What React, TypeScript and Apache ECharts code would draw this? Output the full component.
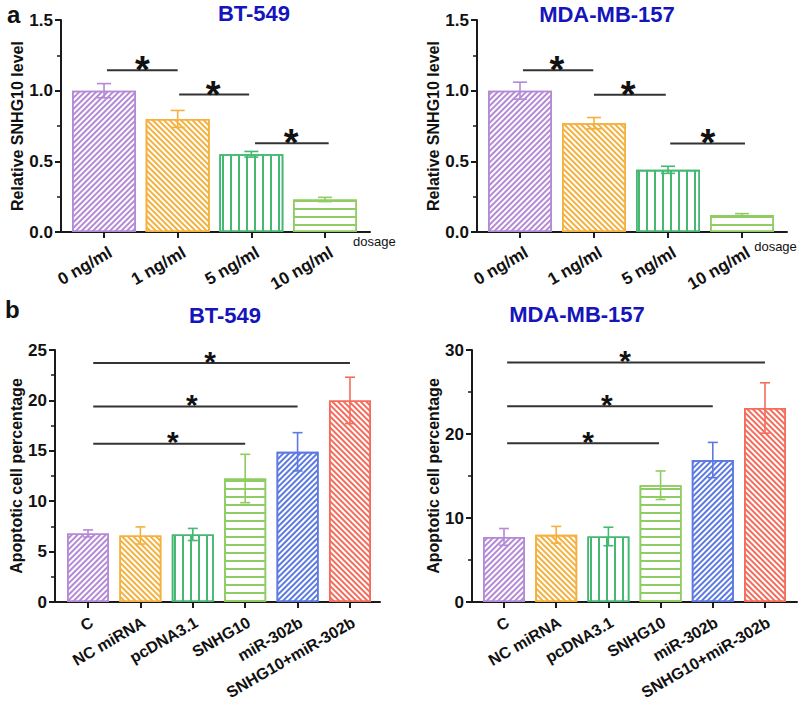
import React, { useEffect, useRef } from 'react';
import * as echarts from 'echarts';

// ---------- data ----------
const dosageCats = ['0 ng/ml', '1 ng/ml', '5 ng/ml', '10 ng/ml'];
const groupCats = ['C', 'NC miRNA', 'pcDNA3.1', 'SNHG10', 'miR-302b', 'SNHG10+miR-302b'];

const aBT549Mean = [1.0, 0.8, 0.55, 0.23];
const aBT549Err = [0.05, 0.06, 0.02, 0.015];
const aMDAMean = [1.0, 0.77, 0.44, 0.12];
const aMDAErr = [0.06, 0.04, 0.025, 0.01];

const bBT549Mean = [6.8, 6.6, 6.7, 12.25, 14.9, 20.0];
const bBT549Err = [0.35, 0.85, 0.6, 2.4, 1.9, 2.3];
const bMDAMean = [7.75, 8.0, 7.8, 13.9, 16.9, 23.1];
const bMDAErr = [1.0, 1.0, 1.1, 1.7, 2.1, 3.0];

// significance brackets: [from, to, y, star position]
const aBT549Sig = [[0.04, 1.0, 1.144, 0.52], [1.02, 1.97, 0.972, 1.48], [2.05, 3.05, 0.628, 2.54]];
const aMDASig = [[0.04, 0.99, 1.144, 0.5], [1.0, 1.97, 0.971, 1.46], [2.03, 3.04, 0.627, 2.54]];
const bBT549Sig = [[0.1, 5.0, 23.7, 2.33], [0.1, 4.0, 19.4, 1.98], [0.1, 3.0, 15.7, 1.62]];
const bMDASig = [[0.06, 5.0, 28.5, 2.32], [0.06, 4.0, 23.3, 1.97], [0.06, 2.97, 18.9, 1.61]];

const aTicks = ['0.0', '0.5', '1.0', '1.5'];

// ---------- styles ----------
const FONT = '"Liberation Sans", Arial, sans-serif';
const PURPLE = '#b48ad6';
const ORANGE = '#f4b13f';
const GREEN = '#45b872';
const LGREEN = '#8fcc63';
const BLUE = '#5c7ae0';
const RED = '#f36c5c';
const TITLE = '#1515bb';

const diagUp = (c: string) => ({ symbol: 'rect', symbolSize: 1, color: c, dashArrayX: [1, 0], dashArrayY: [1.2, 2.0], rotation: -Math.PI / 4 });
const diagDown = (c: string) => ({ symbol: 'rect', symbolSize: 1, color: c, dashArrayX: [1, 0], dashArrayY: [1.2, 1.9], rotation: Math.PI / 4 });
const vert = (c: string) => ({ symbol: 'rect', symbolSize: 1, color: c, dashArrayX: [1, 0], dashArrayY: [1.3, 5.4], rotation: Math.PI / 2 });
const horiz = (c: string) => ({ symbol: 'rect', symbolSize: 1, color: c, dashArrayX: [1, 0], dashArrayY: [1.5, 5.2], rotation: 0 });

const aColors = [PURPLE, ORANGE, GREEN, LGREEN];
const aDecals = [diagUp(PURPLE), diagDown(ORANGE), vert(GREEN), horiz(LGREEN)];
const bColors = [PURPLE, ORANGE, GREEN, LGREEN, BLUE, RED];
const bDecals = [diagUp(PURPLE), diagDown(ORANGE), vert(GREEN), horiz(LGREEN), diagUp(BLUE), diagDown(RED)];

function barSeries(gi: number, means: number[], colors: string[], decals: any[], width: number) {
  return {
    type: 'bar',
    xAxisIndex: gi,
    yAxisIndex: gi,
    barWidth: width,
    silent: true,
    z: 2,
    data: means.map((m, i) => ({
      value: [i, m],
      itemStyle: { color: '#ffffff', borderColor: colors[i], borderWidth: 1.6, decal: decals[i] },
    })),
  };
}

function errSeries(gi: number, means: number[], errs: number[], colors: string[], cap: number) {
  return {
    type: 'custom',
    xAxisIndex: gi,
    yAxisIndex: gi,
    silent: true,
    z: 3,
    encode: { x: 0, y: 1 },
    data: means.map((m, i) => [i, m, errs[i]]),
    renderItem: (params: any, api: any) => {
      const x = api.value(0);
      const m = api.value(1);
      const e = api.value(2);
      const top = api.coord([x, m + e]);
      const bot = api.coord([x, m - e]);
      const st = { stroke: colors[params.dataIndex], lineWidth: 1.6 };
      return {
        type: 'group',
        children: [
          { type: 'line', shape: { x1: top[0], y1: top[1], x2: bot[0], y2: bot[1] }, style: st },
          { type: 'line', shape: { x1: top[0] - cap / 2, y1: top[1], x2: top[0] + cap / 2, y2: top[1] }, style: st },
          { type: 'line', shape: { x1: bot[0] - cap / 2, y1: bot[1], x2: bot[0] + cap / 2, y2: bot[1] }, style: st },
        ],
      };
    },
  };
}

function sigSeries(gi: number, sig: number[][], starSize: number, starDy: number) {
  return {
    type: 'custom',
    xAxisIndex: gi,
    yAxisIndex: gi,
    silent: true,
    z: 4,
    encode: { x: [0, 1, 3], y: 2 },
    data: sig,
    renderItem: (params: any, api: any) => {
      const y = api.value(2);
      const p1 = api.coord([api.value(0), y]);
      const p2 = api.coord([api.value(1), y]);
      const ps = api.coord([api.value(3), y]);
      return {
        type: 'group',
        children: [
          { type: 'line', shape: { x1: p1[0], y1: p1[1], x2: p2[0], y2: p2[1] }, style: { stroke: '#333333', lineWidth: 2 } },
          {
            type: 'text',
            x: ps[0],
            y: ps[1] - starDy,
            style: { text: '*', fill: '#111111', fontSize: starSize, fontWeight: 'bold', fontFamily: FONT, align: 'center', verticalAlign: 'middle' },
          },
        ],
      };
    },
  };
}

function xAxisDef(gi: number, min: number, max: number, cats: string[], shift: number, margin: number, fontSize: number, nameGap?: number, namePad?: number) {
  const idx = cats.map((_, i) => i);
  const ax: any = {
    type: 'value',
    gridIndex: gi,
    min,
    max,
    splitLine: { show: false },
    axisLine: { show: true, onZero: false, lineStyle: { color: '#1a1a1a', width: 2 } },
    axisTick: { show: true, customValues: idx, length: 6, lineStyle: { color: '#1a1a1a', width: 2 } },
    axisLabel: {
      customValues: idx.map((i) => i + shift),
      formatter: (v: number) => cats[Math.round(v - shift)] ?? '',
      rotate: 30,
      margin,
      color: '#111111',
      fontFamily: FONT,
      fontWeight: 'bold',
      fontSize,
    },
  };
  if (nameGap !== undefined) {
    ax.name = 'dosage';
    ax.nameLocation = 'end';
    ax.nameGap = nameGap;
    ax.nameTextStyle = { color: '#111111', fontFamily: FONT, fontSize: 13, fontWeight: 'normal', align: 'left', verticalAlign: 'top', padding: [namePad ?? 3, 0, 0, 0] };
  }
  return ax;
}

function yAxisDef(gi: number, max: number, interval: number, name: string, nameGap: number, fmt?: (v: number) => string) {
  return {
    type: 'value',
    gridIndex: gi,
    min: 0,
    max,
    interval,
    name,
    nameLocation: 'middle',
    nameGap,
    nameTextStyle: { color: '#111111', fontFamily: FONT, fontSize: 16, fontWeight: 'bold' },
    splitLine: { show: false },
    axisLine: { show: true, onZero: false, lineStyle: { color: '#1a1a1a', width: 2 } },
    axisTick: { show: true, length: 6, lineStyle: { color: '#1a1a1a', width: 2 } },
    minorTick: { show: true, splitNumber: 2, length: 4, lineStyle: { color: '#1a1a1a', width: 1.5 } },
    axisLabel: { margin: 8, color: '#111111', fontFamily: FONT, fontWeight: 'bold', fontSize: 17, formatter: fmt },
  };
}

const aFmt = (v: number) => aTicks[Math.round(v / 0.5)] ?? String(v);

export default function App() {
  const ref = useRef<HTMLDivElement>(null);
  useEffect(() => {
    if (!ref.current) return;
    const chart = echarts.init(ref.current, undefined, { renderer: 'svg' });
    const textEl = (text: string, x: number, y: number, size: number, color: string, align: string) => ({
      type: 'text',
      x,
      y,
      silent: true,
      style: { text, fill: color, fontSize: size, fontWeight: 'bold', fontFamily: FONT, align, verticalAlign: 'middle' },
    });
    const option: any = {
      animation: false,
      backgroundColor: '#ffffff',
      grid: [
        { left: 61, top: 20, width: 309, height: 212, outerBoundsMode: 'none', containLabel: false },
        { left: 477, top: 20, width: 310, height: 212, outerBoundsMode: 'none', containLabel: false },
        { left: 55, top: 350, width: 325, height: 252, outerBoundsMode: 'none', containLabel: false },
        { left: 472, top: 350, width: 325, height: 252, outerBoundsMode: 'none', containLabel: false },
      ],
      xAxis: [
        xAxisDef(0, -0.584, 3.611, dosageCats, 0.09, 19, 17, -17, 3),
        xAxisDef(1, -0.581, 3.608, dosageCats, 0.09, 19, 17, -33, 8),
        xAxisDef(2, -0.63, 5.573, groupCats, 0.07, 19, 16),
        xAxisDef(3, -0.613, 5.613, groupCats, 0.07, 19, 16),
      ],
      yAxis: [
        yAxisDef(0, 1.5, 0.5, 'Relative SNHG10 level', 33, aFmt),
        yAxisDef(1, 1.5, 0.5, 'Relative SNHG10 level', 34, aFmt),
        yAxisDef(2, 25, 5, 'Apoptotic cell percentage', 29),
        yAxisDef(3, 30, 10, 'Apoptotic cell percentage', 30),
      ],
      series: [
        barSeries(0, aBT549Mean, aColors, aDecals, 64),
        errSeries(0, aBT549Mean, aBT549Err, aColors, 14),
        sigSeries(0, aBT549Sig, 38, 0),
        barSeries(1, aMDAMean, aColors, aDecals, 64),
        errSeries(1, aMDAMean, aMDAErr, aColors, 14),
        sigSeries(1, aMDASig, 38, 0),
        barSeries(2, bBT549Mean, bColors, bDecals, 42),
        errSeries(2, bBT549Mean, bBT549Err, bColors, 10),
        sigSeries(2, bBT549Sig, 30, 2),
        barSeries(3, bMDAMean, bColors, bDecals, 42),
        errSeries(3, bMDAMean, bMDAErr, bColors, 10),
        sigSeries(3, bMDASig, 30, 2),
      ],
      graphic: [
        textEl('a', 7, 14, 24, '#111111', 'left'),
        textEl('b', 5, 309, 24, '#111111', 'left'),
        textEl('BT-549', 254, 13.5, 22, TITLE, 'center'),
        textEl('MDA-MB-157', 607, 14.5, 22, TITLE, 'center'),
        textEl('BT-549', 225, 315, 22, TITLE, 'center'),
        textEl('MDA-MB-157', 577, 314.5, 22, TITLE, 'center'),
      ],
    };
    chart.setOption(option);
    return () => chart.dispose();
  }, []);
  return <div ref={ref} style={{ position: 'fixed', left: 0, top: 0, width: 800, height: 703 }} />;
}
